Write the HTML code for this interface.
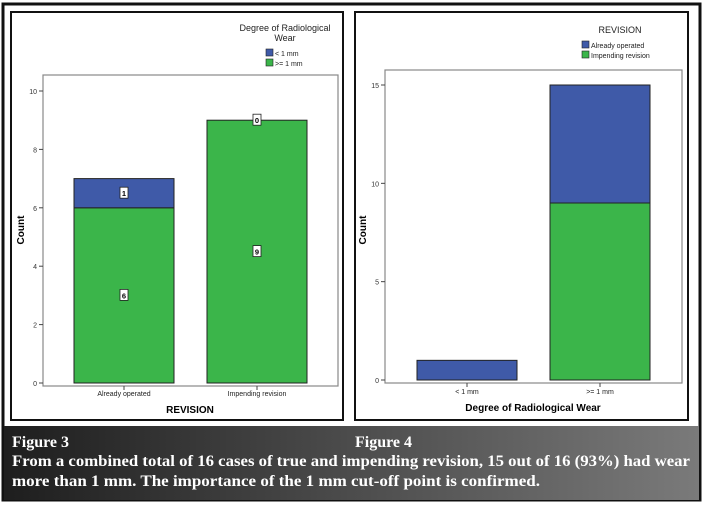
<!DOCTYPE html>
<html><head><meta charset="utf-8"><style>
body{margin:0;width:705px;height:510px;background:#fff;overflow:hidden;font-family:"Liberation Sans",sans-serif}
svg text{font-family:"Liberation Sans",sans-serif}
</style></head><body>
<svg width="705" height="510" viewBox="0 0 705 510">
<defs><linearGradient id="cap" x1="0" x2="1"><stop offset="0" stop-color="#1e1e1e"/><stop offset="1" stop-color="#7a7a7a"/></linearGradient></defs>
<rect x="3" y="4" width="697" height="496" fill="#fff" stroke="#111" stroke-width="3"/>
<rect x="4" y="426" width="695" height="74" fill="url(#cap)"/>
<g fill="#fff" font-weight="bold">
<text x="12" y="447" font-size="16" style="font-family:'Liberation Serif',serif">Figure 3</text>
<text x="355" y="447" font-size="16" style="font-family:'Liberation Serif',serif">Figure 4</text>
<text x="12" y="466" font-size="16" style="font-family:'Liberation Serif',serif" textLength="678" lengthAdjust="spacingAndGlyphs">From a combined total of 16 cases of true and impending revision, 15 out of 16 (93%) had wear</text>
<text x="12" y="486" font-size="16" style="font-family:'Liberation Serif',serif" textLength="528" lengthAdjust="spacingAndGlyphs">more than 1 mm. The importance of the 1 mm cut-off point is confirmed.</text>
</g>
<rect x="11" y="12" width="332" height="408" fill="#fff" stroke="#111" stroke-width="2"/>
<rect x="355" y="12" width="333" height="408" fill="#fff" stroke="#111" stroke-width="2"/>
<g id="c1"></g><g id="c2"></g>
</svg>
<script>
const cats1=["Already operated","Impending revision"];
const below1=[1,0];   // < 1 mm
const above1=[6,9];   // >= 1 mm
const ticks1=[0,2,4,6,8,10];
const cats2=["< 1 mm",">= 1 mm"];
const already2=[1,6];
const impending2=[0,9];
const ticks2=[0,5,10,15];
const NS="http://www.w3.org/2000/svg";
const BLUE="#3f5aa8",GREEN="#3bb54a";
function mk(p,t,a){const e=document.createElementNS(NS,t);for(const k in a)e.setAttribute(k,a[k]);p.appendChild(e);return e;}
function chart(g,o){
 const y=v=>o.y0-(v-0)*(o.y0-o.yTop)/o.vTop;
 const frame=mk(g,'rect',{x:o.L,y:o.T,width:o.R-o.L,height:o.y0-o.T+3,fill:'#fff',stroke:'#888','stroke-width':1.2});
 
 
 o.ticks.forEach(t=>{
  const l=mk(g,'line',{x1:o.L-4,x2:o.L,y1:y(t),y2:y(t),stroke:'#444'});
  
  
  const tx=mk(g,'text',{x:o.L-6,y:y(t)+3,'font-size':7,'text-anchor':'end',fill:'#333'});tx.textContent=t;
  
  
 });
 o.cats.forEach((c,i)=>{
  const cx=o.cx[i],x0=cx-o.bw/2;
  const a=o.s1[i],b=o.s2[i];
  const r1=mk(g,'rect',{x:x0,y:y(a),width:o.bw,height:y(0)-y(a),fill:GREEN,stroke:'#222','stroke-width':1});
  
  
  if(b>0){const r2=mk(g,'rect',{x:x0,y:y(a+b),width:o.bw,height:y(a)-y(a+b),fill:BLUE,stroke:'#222','stroke-width':1});
  
  }
  mk(g,'line',{x1:cx,x2:cx,y1:y(0)+3,y2:y(0)+7,stroke:'#444'});
  const tx=mk(g,'text',{x:cx,y:o.xl,'font-size':7,'text-anchor':'middle',fill:'#222'});tx.textContent=c;
  
  
  if(o.labels){
   [[a/2,a],[a+b/2,b]].forEach(([pos,v],k)=>{
    const py=(k==1&&b==0)?y(a):y(pos);
    const bx=mk(g,'rect',{x:cx-4,y:py-6,width:8,height:11,fill:'#fff',stroke:'#222','stroke-width':0.8});
    
    
    const t2=mk(g,'text',{x:cx,y:py+3,'font-size':7.5,'text-anchor':'middle','font-weight':'bold'});t2.textContent=v;
    
    
   });
  }
 });
}
const g1=document.getElementById('c1'),g2=document.getElementById('c2');
chart(g1,{L:43,R:338,T:75,y0:383,yTop:91,vTop:10,ticks:ticks1,cats:cats1,s1:above1,s2:below1,cx:[124,257],bw:100,xl:396,labels:true});
chart(g2,{L:385,R:682,T:70,y0:380,yTop:85,vTop:15,ticks:ticks2,cats:cats2,s1:impending2,s2:already2,cx:[467,600],bw:100,xl:394,labels:false});
</script>
<svg style="position:absolute;left:0;top:0" width="705" height="510">
<g font-size="9" fill="#222">
<text x="285" y="31" text-anchor="middle" style="font-family:'Liberation Sans',sans-serif">Degree of Radiological</text>
<text x="285" y="41" text-anchor="middle" style="font-family:'Liberation Sans',sans-serif">Wear</text>
<rect x="266" y="49" width="7" height="7" fill="#3f5aa8" stroke="#222" stroke-width=".6"/><text x="275" y="56" font-size="7" style="font-family:'Liberation Sans',sans-serif">&lt; 1 mm</text>
<rect x="266" y="59" width="7" height="7" fill="#3bb54a" stroke="#222" stroke-width=".6"/><text x="275" y="66" font-size="7" style="font-family:'Liberation Sans',sans-serif">&gt;= 1 mm</text>
</g>
<g font-size="9" fill="#222">
<text x="620" y="33" text-anchor="middle" style="font-family:'Liberation Sans',sans-serif">REVISION</text>
<rect x="582" y="41" width="7" height="7" fill="#3f5aa8" stroke="#222" stroke-width=".6"/><text x="591" y="48" font-size="7" style="font-family:'Liberation Sans',sans-serif">Already operated</text>
<rect x="582" y="51" width="7" height="7" fill="#3bb54a" stroke="#222" stroke-width=".6"/><text x="591" y="58" font-size="7" style="font-family:'Liberation Sans',sans-serif">Impending revision</text>
</g>
<text x="190" y="413" font-size="10" font-weight="bold" text-anchor="middle" style="font-family:'Liberation Sans',sans-serif">REVISION</text>
<text x="533" y="411" font-size="10" font-weight="bold" text-anchor="middle" style="font-family:'Liberation Sans',sans-serif">Degree of Radiological Wear</text>
<text transform="translate(24,230) rotate(-90)" font-size="10" font-weight="bold" text-anchor="middle" style="font-family:'Liberation Sans',sans-serif">Count</text>
<text transform="translate(366,230) rotate(-90)" font-size="10" font-weight="bold" text-anchor="middle" style="font-family:'Liberation Sans',sans-serif">Count</text>
</svg>
</body></html>
